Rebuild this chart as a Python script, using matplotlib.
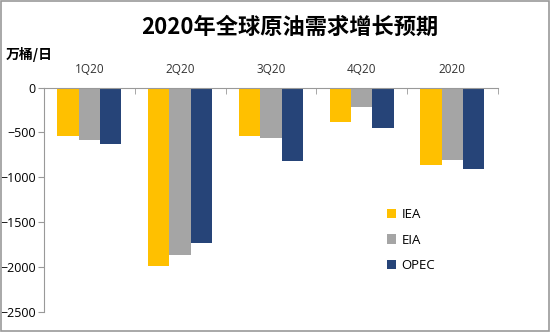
import numpy as np
import matplotlib.pyplot as plt
from matplotlib.patches import Rectangle

plt.rcParams['font.family'] = ['Open Sans', 'Noto Sans CJK SC', 'DejaVu Sans']

quarters = ['1Q20', '2Q20', '3Q20', '4Q20', '2020']
iea = [-540, -1990, -540, -380, -860]
eia = [-580, -1870, -560, -220, -810]
opec = [-630, -1730, -820, -450, -910]
series = [('IEA', iea, '#FFC000'), ('EIA', eia, '#A5A5A5'), ('OPEC', opec, '#264478')]

fig = plt.figure(figsize=(5.5, 3.32), dpi=100)
ax = fig.add_axes([0.08, 0.061, 0.825, 0.6754])

x = np.arange(len(quarters))
w = 0.235
for i, (name, vals, col) in enumerate(series):
    ax.bar(x + (i - 1) * w, vals, width=w, color=col, label=name)

ax.set_xlim(-0.5, len(quarters) - 0.5)
ax.set_ylim(-2500, 0)
ax.set_yticks(np.arange(-2500, 1, 500))

# categories sit above the zero line
ax.xaxis.tick_top()
ax.set_xticks(x)
ax.set_xticklabels(quarters, fontsize=8.5, color='#333333')
ax.tick_params(axis='x', length=0, pad=8)
ax.set_xticks(np.arange(-0.5, len(quarters)), minor=True)
ax.tick_params(axis='x', which='minor', length=4, color='#999999', direction='in', top=True)
ax.tick_params(axis='y', labelsize=9, length=4, color='#999999', pad=2)

for s in ['right', 'bottom']:
    ax.spines[s].set_visible(False)
ax.spines['left'].set_color('#999999')
ax.spines['top'].set_color('#999999')

fig.text(0.527, 0.918, '2020年全球原油需求增长预期', ha='center', va='center',
         fontsize=16, fontweight='bold', family=['Noto Sans CJK SC', 'DejaVu Sans'])
fig.text(0.01, 0.835, '万桶/日', ha='left', va='center', fontsize=10,
         fontweight='bold', family=['Noto Sans CJK SC', 'DejaVu Sans'])

ax.legend(loc='upper left', bbox_to_anchor=(0.73, 0.515), frameon=False,
          fontsize=9.5, handlelength=0.7, handleheight=0.7, labelspacing=0.95,
          handletextpad=0.4)

# outer border
fig.patches.append(Rectangle((0.002, 0.003), 0.996, 0.994, transform=fig.transFigure,
                             fill=False, edgecolor='#999999', linewidth=1.2))

fig.savefig('out.png', dpi=100)
